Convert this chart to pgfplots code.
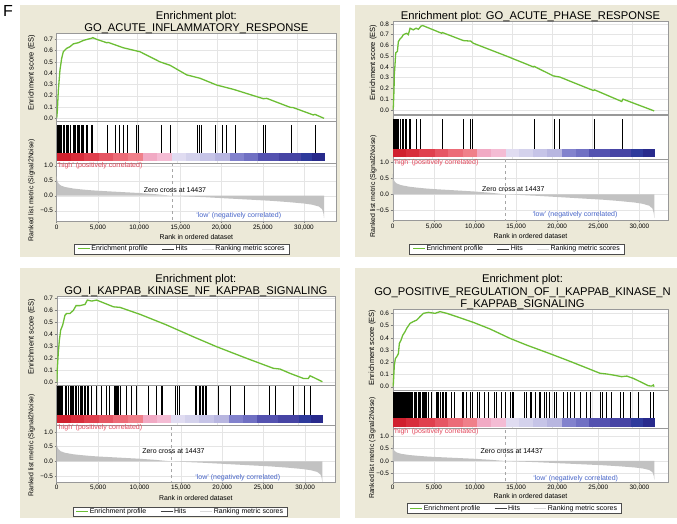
\documentclass[border=0pt]{standalone}
\usepackage{fontspec}
\setmainfont{Liberation Sans}
\usepackage{pgfplots}
\pgfplotsset{compat=1.18}

\definecolor{panelbg}{RGB}{236,233,216}
\definecolor{esgreen}{RGB}{108,190,52}
\definecolor{hightext}{RGB}{226,70,90}
\definecolor{lowtext}{RGB}{70,100,200}
\definecolor{cb1}{RGB}{208,32,46}
\definecolor{cb2}{RGB}{216,46,60}
\definecolor{cb3}{RGB}{224,64,78}
\definecolor{cb4}{RGB}{230,86,100}
\definecolor{cb5}{RGB}{236,108,120}
\definecolor{cb6}{RGB}{240,128,138}
\definecolor{cb7}{RGB}{241,170,196}
\definecolor{cb8}{RGB}{244,188,212}
\definecolor{cb9}{RGB}{224,220,241}
\definecolor{cb10}{RGB}{212,210,236}
\definecolor{cb11}{RGB}{198,196,231}
\definecolor{cb12}{RGB}{184,182,224}
\definecolor{cb13}{RGB}{130,130,205}
\definecolor{cb14}{RGB}{112,112,195}
\definecolor{cb15}{RGB}{84,82,176}
\definecolor{cb16}{RGB}{70,68,164}
\definecolor{cb17}{RGB}{46,58,156}
\definecolor{cb18}{RGB}{40,42,140}

\tikzset{annot/.style={font=\fontsize{7}{8}\selectfont, inner sep=0pt}}

\pgfplotsset{
  gsea/.style={scale only axis, anchor=north west, xmin=0,
    scaled x ticks=false, scaled y ticks=false,
    axis line style={black!40}, axis background/.style={fill=white},
    tick align=outside, tick pos=left, major tick length=2pt,
    tick style={black!50, thin}, clip mode=individual,
    ticklabel style={font=\fontsize{6.4}{7}\selectfont, inner sep=1.5pt},
    label style={font=\fontsize{6.9}{8}\selectfont},
    /pgf/number format/assume math mode=true,
    grid style={black!10, thin}},
  espanel/.style={gsea, xtick={0,4860,...,33000}, xticklabels={},
    xtick style={draw=none}, xmajorgrids, ymajorgrids,
    ylabel={Enrichment score (ES)},
    ylabel style={font=\fontsize{7.5}{8}\selectfont},
    title style={font=\fontsize{11.2}{12}\selectfont, align=center,
      at={(0.5,1)}, anchor=south, inner sep=0pt, yshift=-7pt}},
  hitpanel/.style={gsea, xtick={0,4860,...,33000}, xticklabels={},
    xtick style={draw=none}, ytick=\empty, xmajorgrids},
  rankpanel/.style={gsea, xtick={0,5000,...,30000},
    xticklabels={0,{5,000},{10,000},{15,000},{20,000},{25,000},{30,000}},
    ytick={-0.5,0,0.5,1}, yticklabels={−0.5,0.0,0.5,1.0}, grid=major,
    xlabel={Rank in ordered dataset},
    ylabel={Ranked list metric (Signal2Noise)},
    legend style={draw=black!70, fill=white, font=\fontsize{7}{8}\selectfont,
      legend columns=-1, anchor=north, inner xsep=3pt, inner ysep=0.5pt,
      nodes={inner sep=1pt},
      /tikz/every even column/.append style={column sep=13pt}},
    legend image code/.code={\draw[##1] (0pt,0pt) -- (12pt,0pt);}},
}

% one block of the coloured rank bar: colour, from, to, x scale, height
\newcommand{\seg}[5]{\addplot[fill=#1, draw=#1, line width=0.2pt, x filter/.expression={x*#4}] coordinates {(#2,0) (#2,#5) (#3,#5) (#3,0)};}
\newcommand{\colourbar}[2]{%
  \seg{cb1}{0}{1700}{#1}{#2}
  \seg{cb2}{1700}{3300}{#1}{#2}
  \seg{cb3}{3300}{5200}{#1}{#2}
  \seg{cb4}{5200}{6900}{#1}{#2}
  \seg{cb5}{6900}{8700}{#1}{#2}
  \seg{cb6}{8700}{10500}{#1}{#2}
  \seg{cb7}{10500}{12200}{#1}{#2}
  \seg{cb8}{12200}{14000}{#1}{#2}
  \seg{cb9}{14000}{15700}{#1}{#2}
  \seg{cb10}{15700}{17400}{#1}{#2}
  \seg{cb11}{17400}{19200}{#1}{#2}
  \seg{cb12}{19200}{21000}{#1}{#2}
  \seg{cb13}{21000}{22700}{#1}{#2}
  \seg{cb14}{22700}{24400}{#1}{#2}
  \seg{cb15}{24400}{27000}{#1}{#2}
  \seg{cb16}{27000}{29600}{#1}{#2}
  \seg{cb17}{29600}{31000}{#1}{#2}
  \seg{cb18}{31000}{32430}{#1}{#2}
}
% ranked list metric (same dataset in every panel)
\newcommand{\rankedmetric}[1]{%
  \addplot[fill=black!24, draw=none, x filter/.expression={x*#1}] coordinates {
    (0,0) (0,0.65) (30,0.55) (100,0.47) (250,0.40) (500,0.34) (1000,0.29)
    (2000,0.24) (3000,0.21) (4000,0.185) (5000,0.165) (6000,0.15) (8000,0.12)
    (10000,0.09) (12000,0.05) (13950,0) (16000,-0.025) (18000,-0.05)
    (20000,-0.08) (22000,-0.11) (24000,-0.14) (26000,-0.17) (28000,-0.21)
    (30000,-0.26) (31000,-0.30) (31800,-0.36) (32200,-0.45) (32350,-0.58)
    (32430,-0.75) (32430,0)};
  \addplot[black!35, dashed, thin, x filter/.expression={x*#1}] coordinates {(13950,-2) (13950,2)};
}
\newcommand{\legendentries}{%
  \addlegendimage{esgreen, line width=1pt}
  \addlegendentry{Enrichment profile}
  \addlegendimage{black!75, line width=0.8pt}
  \addlegendentry{Hits}
  \addlegendimage{black!15, line width=0.8pt}
  \addlegendentry{Ranking metric scores}
}

\begin{document}
\begin{tikzpicture}
\fill[panelbg] (20pt,-5pt) rectangle (340pt,-257pt);
\fill[panelbg] (355pt,-5pt) rectangle (677pt,-257pt);
\fill[panelbg] (20pt,-268pt) rectangle (340pt,-518pt);
\fill[panelbg] (355pt,-268pt) rectangle (677pt,-518pt);
\node[font=\fontsize{16}{16}\selectfont, inner sep=0pt] at (8pt,-11pt) {F};

%================ panel 1 =================
\begin{axis}[espanel, at={(56.7pt,-33pt)}, width=279.3pt, height=88.5pt,
  xmax=33880, ymin=-0.028, ymax=0.756,
  ytick={0,0.1,...,0.75}, yticklabels={0.0,0.1,0.2,0.3,0.4,0.5,0.6,0.7},
  ylabel style={at={(axis description cs:-0.0895,0.554)}, anchor=center},
  title={Enrichment plot:\\GO\_ACUTE\_INFLAMMATORY\_RESPONSE}]
\addplot[esgreen, line width=1.3pt] coordinates {
  (0,0) (80,0.07) (200,0.25) (400,0.43) (600,0.53) (800,0.59) (1200,0.62)
  (1620,0.635) (2020,0.66) (2630,0.67) (3230,0.69) (3720,0.70) (4250,0.71)
  (4380,0.715) (4850,0.70) (6060,0.67) (6270,0.672) (8090,0.625) (10100,0.59)
  (12540,0.50) (13750,0.47) (15770,0.385) (17390,0.355) (19400,0.295)
  (21430,0.257) (25070,0.174) (25480,0.177) (28300,0.098) (28700,0.095)
  (31130,0.03) (31330,0.035) (32430,0.0)};
\end{axis}
\begin{axis}[hitpanel, at={(56.7pt,-121.5pt)}, width=279.3pt, height=41.5pt,
  xmax=33880, ymin=-0.064, ymax=1.089]
\addplot[ycomb, black, line width=0.55pt] coordinates {
  (30,1) (121,1) (202,1) (283,1) (404,1) (526,1) (607,1) (809,1) (930,1)
  (1132,1) (1254,1) (1415,1) (1618,1) (2022,1) (2143,1) (2305,1) (2507,1)
  (2629,1) (2750,1) (2952,1) (3114,1) (3235,1) (3559,1) (3720,1) (4165,1)
  (4368,1) (6187,1) (7158,1) (7603,1) (8088,1) (8614,1) (9625,1) (9908,1)
  (12658,1) (13750,1) (17106,1) (17268,1) (17511,1) (19290,1) (20099,1)
  (20624,1) (21635,1) (25073,1) (25356,1) (28510,1) (31341,1)};
\colourbar{1.0}{0.214}
\end{axis}
\begin{axis}[rankpanel, at={(56.7pt,-163pt)}, width=279.3pt, height=58pt,
  xmax=33880, ymin=-0.843, ymax=1.09,
  ylabel style={at={(axis description cs:-0.0895,0.534)}, anchor=center},
  xlabel style={at={(axis description cs:0.5,0)}, anchor=center, yshift=-16pt},
  legend style={at={(axis description cs:0.447,0)}, yshift=-23pt}]
\legendentries
\rankedmetric{1.0}
\node[annot, text=hightext, anchor=west] at (axis cs:80,1.0) {`high' (positively correlated)};
\node[annot] at (axis cs:14350,0.18) {Zero cross at 14437};
\node[annot, text=lowtext] at (axis cs:22080,-0.68) {`low' (negatively correlated)};
\end{axis}

%================ panel 2 =================
\begin{axis}[espanel, at={(392.7pt,-20.7pt)}, width=275.6pt, height=94pt,
  xmax=33515, ymin=-0.045, ymax=0.83,
  ytick={0,0.1,...,0.85}, yticklabels={0.0,0.1,0.2,0.3,0.4,0.5,0.6,0.7,0.8},
  ylabel style={at={(axis description cs:-0.0704,0.555)}, anchor=center},
  title={Enrichment plot: GO\_ACUTE\_PHASE\_RESPONSE}]
\addplot[esgreen, line width=1.3pt] coordinates {
  (0,0) (80,0.03) (160,0.19) (200,0.33) (280,0.42) (365,0.53) (570,0.545)
  (690,0.635) (890,0.66) (1090,0.675) (1300,0.70) (1700,0.713) (1900,0.70)
  (2110,0.76) (2510,0.745) (2840,0.76) (3120,0.75) (3450,0.78) (3650,0.785)
  (5960,0.713) (6040,0.72) (8590,0.645) (9490,0.64) (9810,0.62) (13860,0.50)
  (17100,0.40) (17190,0.405) (19540,0.316) (20300,0.306) (24400,0.18)
  (24550,0.186) (27850,0.078) (28000,0.10) (31800,-0.01)};
\end{axis}
\begin{axis}[hitpanel, at={(392.7pt,-114.7pt)}, width=275.6pt, height=44pt,
  xmax=33515, ymin=-0.044, ymax=1.104]
\addplot[ycomb, black, line width=0.55pt] coordinates {
  (30,1) (122,1) (203,1) (284,1) (446,1) (568,1) (730,1) (892,1) (1135,1)
  (1297,1) (1500,1) (1703,1) (2027,1) (2108,1) (2838,1) (3405,1) (6040,1)
  (8594,1) (9486,1) (9689,1) (17190,1) (19700,1) (20270,1) (24530,1)
  (27970,1)};
\colourbar{0.981}{0.217}
\end{axis}
\begin{axis}[rankpanel, at={(392.7pt,-158.7pt)}, width=275.6pt, height=61.3pt,
  xmax=33515, ymin=-0.81, ymax=1.12,
  ylabel style={at={(axis description cs:-0.0704,0.549)}, anchor=center},
  xlabel style={at={(axis description cs:0.5,0)}, anchor=center, yshift=-16pt},
  legend style={at={(axis description cs:0.45,0)}, yshift=-24pt}]
\legendentries
\rankedmetric{0.981}
\node[annot, text=hightext, anchor=west] at (axis cs:80,1.0) {`high' (positively correlated)};
\node[annot] at (axis cs:14670,0.16) {Zero cross at 14437};
\node[annot, text=lowtext] at (axis cs:22170,-0.65) {`low' (negatively correlated)};
\end{axis}

%================ panel 3 =================
\begin{axis}[espanel, at={(56.7pt,-296pt)}, width=278.3pt, height=89pt,
  xmax=33620, ymin=-0.022, ymax=0.72,
  ytick={0,0.1,...,0.75}, yticklabels={0.0,0.1,0.2,0.3,0.4,0.5,0.6,0.7},
  ylabel style={at={(axis description cs:-0.0898,0.543)}, anchor=center},
  title={Enrichment plot:\\GO\_I\_KAPPAB\_KINASE\_NF\_KAPPAB\_SIGNALING}]
\addplot[esgreen, line width=1.3pt] coordinates {
  (0,0) (80,0.117) (200,0.255) (320,0.35) (480,0.436) (725,0.478) (1000,0.56)
  (1210,0.575) (1610,0.575) (2010,0.60) (2340,0.64) (2820,0.64) (3420,0.65)
  (3700,0.686) (4230,0.678) (4830,0.686) (6850,0.63) (7650,0.625)
  (10070,0.567) (13290,0.478) (16510,0.38) (19330,0.297) (22960,0.20)
  (26180,0.117) (26980,0.111) (28190,0.075) (29800,0.033) (30400,0.033)
  (30600,0.055) (31010,0.042) (32100,0.005)};
\end{axis}
\begin{axis}[hitpanel, at={(56.7pt,-385pt)}, width=278.3pt, height=40pt,
  xmax=33620, ymin=-0.063, ymax=1.027]
\addplot[ycomb, black, line width=0.55pt] coordinates {
  (40,1) (121,1) (201,1) (322,1) (443,1) (524,1) (685,1) (1007,1) (1128,1)
  (1409,1) (1611,1) (1732,1) (1893,1) (2014,1) (2215,1) (2416,1) (2618,1)
  (2819,1) (2940,1) (3101,1) (3342,1) (3503,1) (3665,1) (3826,1) (4148,1)
  (4832,1) (5356,1) (6041,1) (6322,1) (6967,1) (7047,1) (7168,1) (7289,1)
  (7369,1) (7450,1) (7651,1) (8457,1) (8980,1) (9665,1) (11074,1) (12081,1)
  (12605,1) (12766,1) (14376,1) (14618,1) (14779,1) (16712,1) (16913,1)
  (17195,1) (17396,1) (17598,1) (17719,1) (17920,1) (18122,1) (19531,1)
  (20940,1) (22672,1) (25652,1) (26377,1) (28592,1) (29920,1) (30604,1)};
\colourbar{0.99}{0.21}
\end{axis}
\begin{axis}[rankpanel, at={(56.7pt,-425pt)}, width=278.3pt, height=56.7pt,
  xmax=33620, ymin=-0.69, ymax=1.23,
  ylabel style={at={(axis description cs:-0.0898,0.641)}, anchor=center},
  xlabel style={at={(axis description cs:0.5,0)}, anchor=center, yshift=-16.6pt},
  legend style={at={(axis description cs:0.443,0)}, yshift=-25pt}]
\legendentries
\rankedmetric{0.99}
\node[annot, text=hightext, anchor=west] at (axis cs:60,1.15) {`high' (positively correlated)};
\node[annot] at (axis cs:14100,0.35) {Zero cross at 14437};
\node[annot, text=lowtext] at (axis cs:21870,-0.55) {`low' (negatively correlated)};
\end{axis}

%================ panel 4 =================
\begin{axis}[espanel, at={(392.7pt,-309.3pt)}, width=275.6pt, height=80.7pt,
  xmax=33515, ymin=-0.027, ymax=0.633,
  ytick={0,0.1,...,0.65}, yticklabels={0.0,0.1,0.2,0.3,0.4,0.5,0.6},
  ylabel style={at={(axis description cs:-0.074,0.527)}, anchor=center},
  title style={xshift=-8pt, font=\fontsize{11.2}{12.5}\selectfont},
  title={Enrichment plot:\\GO\_POSITIVE\_REGULATION\_OF\_I\_KAPPAB\_KINASE\_N\\F\_KAPPAB\_SIGNALING}]
\addplot[esgreen, line width=1.3pt] coordinates {
  (0,0) (80,0.027) (200,0.177) (325,0.23) (490,0.245) (690,0.27) (810,0.355)
  (1010,0.38) (1215,0.42) (1500,0.45) (1700,0.477) (2110,0.518) (2430,0.53)
  (2920,0.545) (3320,0.573) (3730,0.60) (4340,0.608) (5150,0.60) (5760,0.614)
  (6570,0.60) (7780,0.573) (9810,0.526) (11840,0.472) (14270,0.395)
  (16300,0.34) (18730,0.28) (21160,0.218) (23190,0.164) (25210,0.11)
  (26020,0.104) (26840,0.095) (27850,0.082) (28460,0.087) (29270,0.068)
  (30280,0.035) (31090,0.008) (31500,0.005) (31700,0.014) (31780,0.0)};
\end{axis}
\begin{axis}[hitpanel, at={(392.7pt,-390pt)}, width=275.6pt, height=38pt,
  xmax=33515, ymin=-0.037, ymax=1.049]
\addplot[ycomb, black, line width=0.55pt] coordinates {
  (30,1) (122,1) (243,1) (365,1) (486,1) (608,1) (730,1) (851,1) (973,1)
  (1095,1) (1216,1) (1338,1) (1459,1) (1581,1) (1703,1) (1824,1) (1946,1)
  (2068,1) (2189,1) (2311,1) (2432,1) (2595,1) (2757,1) (2919,1) (3081,1)
  (3243,1) (3405,1) (3568,1) (3689,1) (3811,1) (3932,1) (4054,1) (4338,1)
  (4743,1) (5270,1) (5392,1) (5513,1) (5838,1) (6000,1) (6162,1) (6405,1)
  (6567,1) (7176,1) (7459,1) (8473,1) (8635,1) (9000,1) (9486,1) (9730,1)
  (10297,1) (10540,1) (11108,1) (11635,1) (12324,1) (12567,1) (13256,1)
  (13702,1) (14270,1) (14513,1) (14716,1) (16013,1) (16216,1) (16702,1)
  (16905,1) (17310,1) (17838,1) (18000,1) (18405,1) (18648,1) (19054,1)
  (19621,1) (19864,1) (20756,1) (21243,1) (21567,1) (22053,1) (22783,1)
  (23594,1) (23999,1) (25297,1) (25500,1) (26026,1) (26634,1) (27648,1)
  (28053,1) (28864,1) (29878,1) (31297,1) (31702,1)};
\colourbar{0.981}{0.24}
\end{axis}
\begin{axis}[rankpanel, at={(392.7pt,-428pt)}, width=275.6pt, height=53.7pt,
  xmax=33515, ymin=-0.83, ymax=1.32,
  ylabel style={at={(axis description cs:-0.074,0.63)}, anchor=center},
  xlabel style={at={(axis description cs:0.5,0)}, anchor=center, yshift=-14.3pt},
  legend style={at={(axis description cs:0.44,0)}, yshift=-21.6pt}]
\legendentries
\rankedmetric{0.981}
\node[annot, text=hightext, anchor=west] at (axis cs:80,1.17) {`high' (positively correlated)};
\node[annot] at (axis cs:14470,0.40) {Zero cross at 14437};
\node[annot, text=lowtext] at (axis cs:22250,-0.69) {`low' (negatively correlated)};
\end{axis}

\pgfresetboundingbox
\useasboundingbox (0pt,0pt) rectangle (677pt,-523pt);
\end{tikzpicture}
\end{document}
